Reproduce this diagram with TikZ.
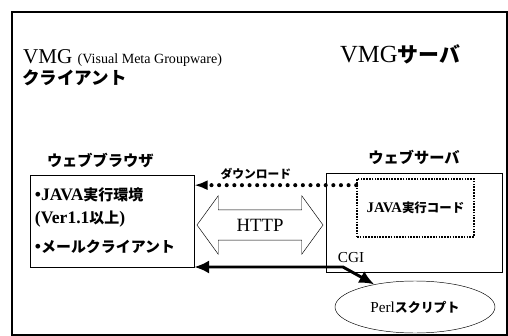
\documentclass[tikz,border=0pt]{standalone}
\usepackage{fontspec}
\setmainfont{Liberation Serif}
\newfontfamily\jp{Noto Sans CJK JP}[Scale=0.85]
\usetikzlibrary{arrows.meta, positioning, calc, shapes.geometric, shapes.arrows}
\tikzset{
  frame/.style={draw, line width=1.2pt},
  box/.style={draw, thin, inner sep=0pt},
  codebox/.style={draw, densely dotted, line width=1.4pt, align=center, font=\bfseries\fontsize{12.5}{14}\selectfont},
  heading/.style={font=\jp\bfseries\fontsize{15.3}{17}\selectfont, inner sep=0pt},
  title/.style={font=\fontsize{18}{21}\selectfont, inner sep=0pt},
  script/.style={draw, ellipse, thin, minimum width=48mm, minimum height=15.6mm, font=\fontsize{13}{15}\selectfont},
  httparrow/.style={draw, thin, double arrow, double arrow head extend=4.2mm, double arrow tip angle=108,
    minimum height=37.8mm, text height=11pt, text depth=0pt, inner xsep=0pt, inner ysep=7.3pt, font=\fontsize{16}{18}\selectfont},
  download/.style={-{Latex[length=4mm, width=3mm]}, line width=3.5pt, line cap=round, dash pattern=on 0pt off 6.5pt},
  request/.style={{Latex[length=4.5mm, width=4mm]}-{Latex[length=4.5mm, width=4mm]}, line width=2.5pt},
  note/.style={font=\jp\bfseries\fontsize{11.8}{13}\selectfont, inner sep=1pt}
}
\begin{document}
\begin{tikzpicture}[x=0.3mm, y=-0.3mm]
    \useasboundingbox (0,0) rectangle (508,336);
    \draw[frame] (12,12) rectangle (507,335);

    \node[title, anchor=base west] (clientvmg) at (23,64) {VMG {\fontsize{12}{14}\selectfont (Visual Meta Groupware)}};
    \node[heading, font=\jp\bfseries\fontsize{17.6}{19}\selectfont, anchor=west] (client) at (22,78) {クライアント};
    \node[title, font=\fontsize{21}{24}\selectfont, anchor=base west] (servervmg) at (340,62) {VMG{\jp\bfseries サーバ}};

    \node[box, minimum width=49.2mm, minimum height=27.6mm, text width=46.2mm, inner xsep=1.5mm, align=left,
      font=\bfseries\fontsize{15}{19.6}\selectfont] (browser) at (112,221)
      {•JAVA{\jp 実行環境}\\(Ver1.1{\jp 以上})\\[5pt]•{\jp メールクライアント}};
    \node[heading, above=2mm of browser, xshift=-3.5mm] (browserhead) {ウェブブラウザ};

    \node[box, minimum width=52.8mm, minimum height=29.7mm] (server) at (414,222.5) {};
    \node[heading, above=2.5mm of server] (serverhead) {ウェブサーバ};
    \node[codebox, minimum width=35.1mm, minimum height=17.4mm] (jcode) at (415.5,208) {JAVA{\jp 実行コード}};

    \node[httparrow] (http) at (260,225) {HTTP};
    \node[script] (perl) at (415,307) {Perl{\jp\bfseries スクリプト}};
    \coordinate (cgicorner) at (343,267);
    \node[font=\fontsize{13}{15}\selectfont, inner sep=0pt] (cgi) at (351,258) {CGI};

    \draw[download] ($(jcode.north west)+(0,7)$) coordinate (dlstart) -- (dlstart -| browser.east)
      node[pos=0.62, above=0.8mm, note] (dltext) {ダウンロード};
    \draw[request] (cgicorner -| browser.east) -- (cgicorner) -- (perl);
\end{tikzpicture}
\end{document}
